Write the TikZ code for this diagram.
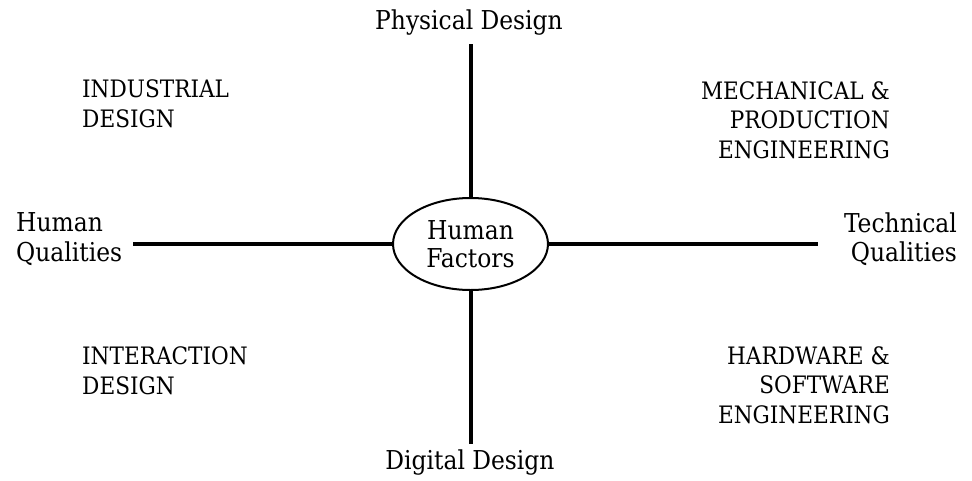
\documentclass[tikz,border=0pt]{standalone}
\usepackage{fontspec}
\setmainfont{DejaVu Serif Condensed}
\usetikzlibrary{shapes.geometric}
\begin{document}
\begin{tikzpicture}[x=1pt,y=-1pt,
  lbl/.style={inner sep=0pt,font=\fontsize{24}{29.5}\selectfont},
  mixed/.style={inner sep=0pt,font=\fontsize{26}{29.5}\selectfont},
  axis/.style={line width=4pt},
  hub/.style={ellipse,draw,line width=2pt,minimum width=155pt,minimum height=92pt,inner sep=0pt,align=center,font=\fontsize{26}{28.5}\selectfont}]
\useasboundingbox (0,0) rectangle (972,480);
% central ellipse
\node[hub] (hf) at (470.5,244) {Human\\Factors};
% free ends of the two axes
\coordinate (top) at (470.5,44);
\coordinate (bot) at (470.5,444);
\coordinate (lft) at (133,244);
\coordinate (rgt) at (818,244);
\draw[axis] (hf.north) -- (top);
\draw[axis] (hf.south) -- (bot);
\draw[axis] (hf.west) -- (lft);
\draw[axis] (hf.east) -- (rgt);
% axis labels
\node[mixed] (pd) at (469,23) {Physical Design};
\node[mixed] (dd) at (470,463) {Digital Design};
\node[mixed,align=left,anchor=west] (hq) at (16,239) {Human\\Qualities};
\node[mixed,align=right,anchor=east] (tq) at (957,239) {Technical\\Qualities};
% quadrant labels
\node[lbl,align=left,anchor=west] (ind) at (82,104) {INDUSTRIAL\\DESIGN};
\node[lbl,align=right,anchor=east] (mech) at (890,120) {MECHANICAL \&\\PRODUCTION\\ENGINEERING};
\node[lbl,align=left,anchor=west] (inter) at (82,371) {INTERACTION\\DESIGN};
\node[lbl,align=right,anchor=east] (hw) at (890,385) {HARDWARE \&\\SOFTWARE\\ENGINEERING};
\end{tikzpicture}
\end{document}
